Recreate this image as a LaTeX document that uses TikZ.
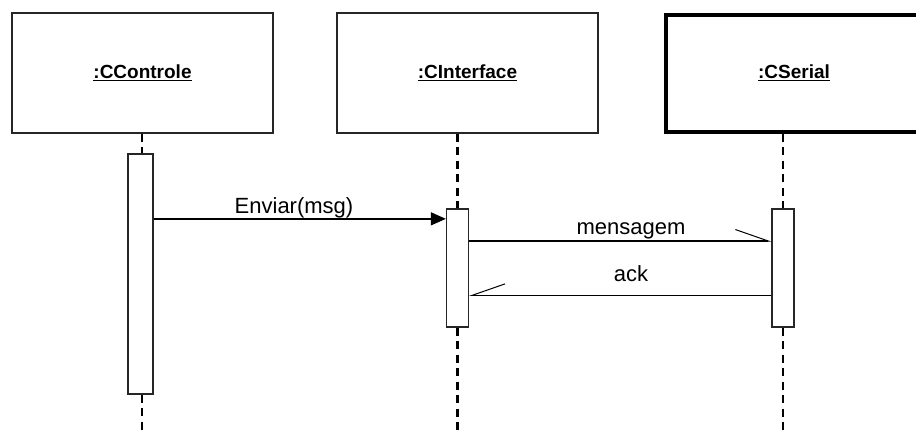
\documentclass[tikz,border=0pt]{standalone}
\usepackage{fontspec}
\setmainfont{Liberation Sans}
\usetikzlibrary{arrows.meta}

\tikzset{
  objbox/.style={draw=black!85, line width=1.3pt, minimum width=261pt, minimum height=120pt,
    inner sep=0pt, font=\bfseries\fontsize{19}{22}\selectfont},
  activ/.style={draw=black!85, fill=white, line width=1.3pt, minimum width=22pt, inner sep=0pt},
  lifeline/.style={line width=2.6pt, dash pattern=on 8pt off 5.5pt},
  msg/.style={line width=1.3pt},
  msgtext/.style={inner sep=0pt, font=\fontsize{22}{26}\selectfont},
  halfhead/.style={-{Straight Barb[#1, length=33pt, width=23pt, line width=1pt]}}
}

\begin{document}
\begin{tikzpicture}[x=1pt, y=-1pt]
\clip (0,0) rectangle (916,434);
%% objects
\node [objbox] (ctrl) at (142.5,73) {\underline{:CControle}};
\node [objbox] (intf) at (467.5,73) {\underline{:CInterface}};
\node [objbox, draw=black, line width=4pt, minimum width=257pt, minimum height=117pt] (serial) at (794,73) {\underline{:CSerial}};
%% activations
\node [activ, minimum width=25pt, minimum height=240pt] (actA) at (140.5,274) {};
\node [activ, minimum height=118pt] (actB) at (457.5,268) {};
\node [activ, minimum height=118pt] (actC) at (783,268) {};
\coordinate (endA) at (142,434);
\coordinate (endB) at (457.5,434);
\coordinate (endC) at (783,434);
%% lifelines
\draw [lifeline] (endA |- ctrl.south) -- (endA |- actA.north);
\draw [lifeline] (endA |- actA.south) -- (endA);
\foreach \a/\b in {intf/B, serial/C} {
  \draw [lifeline] (act\b.north |- \a.south) -- (act\b.north);
  \draw [lifeline] (act\b.south) -- (end\b);
}
%% messages
\coordinate (envEnd) at ([yshift=-10.5pt]actB.north west);
\draw [msg, -{Triangle[length=15pt, width=13pt]}] (actA.east |- envEnd) -- (envEnd);
\node [msgtext] (envLbl) at (294,207.5) {Enviar(msg)};
\coordinate (msgEnd) at ([yshift=-32.7pt]actC.north west);
\draw [msg, halfhead=left] (actB.east |- msgEnd) -- (msgEnd);
\node [msgtext] (msgLbl) at (631,230.5) {mensagem};
\coordinate (ackEnd) at ([yshift=-87pt]actB.north east);
\draw [msg, halfhead=right] (actC.west |- ackEnd) -- (ackEnd);
\node [msgtext] (ackLbl) at (631,273.5) {ack};
\end{tikzpicture}
\end{document}
